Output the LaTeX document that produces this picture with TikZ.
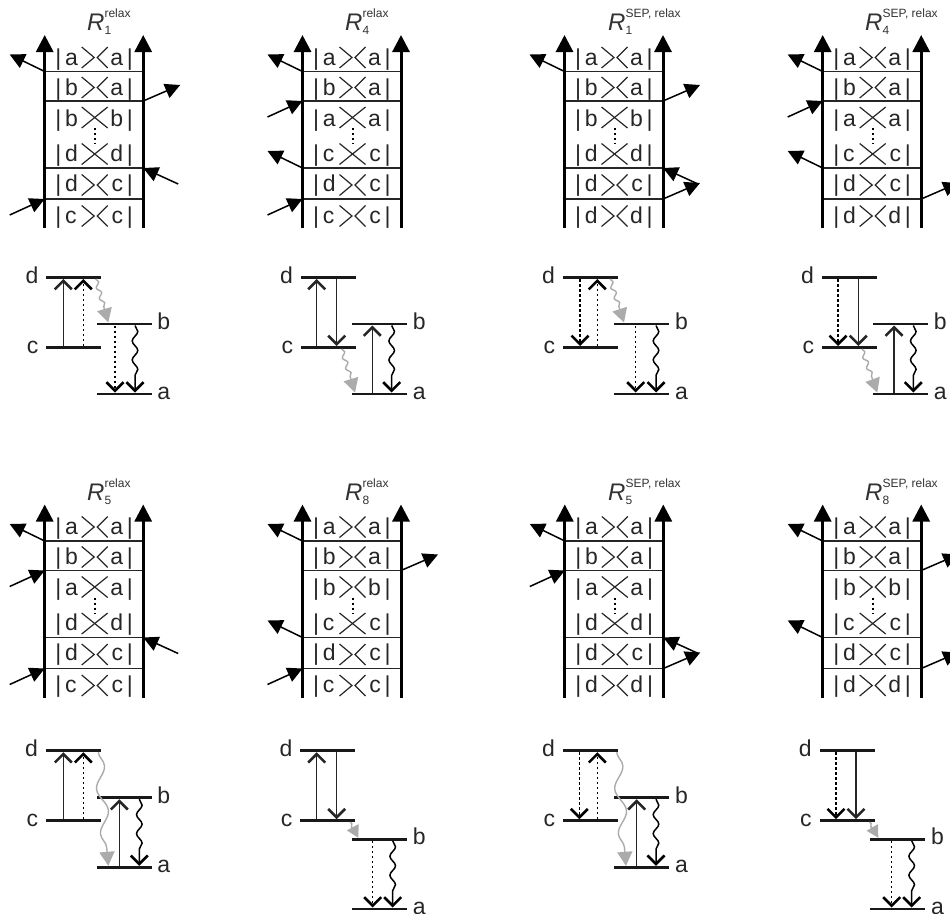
\documentclass[tikz,border=0pt]{standalone}
\usepackage{fontspec}
\setmainfont{Liberation Sans}
\usepackage{tikz}
\usetikzlibrary{arrows.meta, decorations.pathmorphing}

\definecolor{linedark}{gray}{0.15}
\definecolor{waygray}{gray}{0.67}

\tikzset{
  rail/.style={line width=3pt, -{Triangle[length=17pt,width=17pt]}},
  rung/.style={line width=1.6pt, draw=linedark},
  sidearrow/.style={line width=1.5pt, -{Triangle[length=15pt,width=15pt]}},
  ketline/.style={line width=1.2pt, draw=linedark},
  kettext/.style={font=\fontsize{23}{23}\selectfont, text=black!85, inner sep=0pt},
  titletext/.style={anchor=base west, inner sep=0pt, text=black!80},
  level/.style={rectangle, fill=black!90, minimum width=55pt, minimum height=2.6pt, inner sep=0pt, anchor=west},
  levellabel/.style={font=\fontsize{23}{23}\selectfont, text=black!85, inner sep=0pt},
  barbtip/.style={-{Straight Barb[length=8.5pt,width=17pt,line width=2.6pt]}},
  solidtrans/.style={barbtip, line width=1.5pt, draw=linedark},
  dashtrans/.style={barbtip, line width=1.5pt, dash pattern=on 2.5pt off 2.5pt},
  wavytrans/.style={barbtip, line width=1.5pt, decorate, decoration={snake, amplitude=2.8pt, segment length=19pt, post length=8pt}},
  graywave/.style={-{Triangle[length=14pt,width=15pt]}, waygray, line width=1.4pt, decorate, decoration={snake, amplitude=2pt, segment length=11pt, post length=12pt}},
  graylong/.style={-{Triangle[length=14pt,width=15pt]}, waygray, line width=1.4pt, decorate, decoration={snake, amplitude=5pt, segment length=45pt, post length=12pt}},
  grayshort/.style={-{Triangle[length=12pt,width=13pt]}, waygray, line width=1.4pt, decorate, decoration={snake, amplitude=1pt, segment length=6pt, post length=10pt}},
}

% title of one panel: index, superscript
\newcommand{\rname}[2]{{\fontsize{24}{24}\selectfont\textit{R}}\rlap{\raisebox{12.5pt}{\fontsize{12}{12}\selectfont #2}}\raisebox{-4pt}{\fontsize{12}{12}\selectfont #1}}

% open and crossed brackets between the kets
\newcommand{\openrow}[1]{
  \draw[ketline] (37,#1-10.5) -- (49.5,#1) -- (37,#1+10.5);
  \draw[ketline] (63,#1-10.5) -- (52.5,#1) -- (63,#1+10.5);
}
\newcommand{\crossrow}[1]{
  \draw[ketline] (37,#1-10.5) -- (63,#1+10.5);
  \draw[ketline] (63,#1-10.5) -- (37,#1+10.5);
}

% ladder: x, y, letters of rows 3, 4 and 6, bracket of row 3
\newcommand{\ladder}[6]{
  \begin{scope}[shift={(#1,#2)}]
    \coordinate (lb) at (0,228);
    \coordinate (lt) at (0,35);
    \coordinate (rb) at (98.5,228);
    \coordinate (rt) at (98.5,35);
    \foreach \i/\ry in {1/71.5, 2/101, 3/168, 4/199} {
      \coordinate (rl\i) at (0,\ry);
      \coordinate (rr\i) at (98.5,\ry);
      \draw[rung] (rl\i) -- (rr\i);
    }
    \draw[rail] (lb) -- (lt);
    \draw[rail] (rb) -- (rt);
    % kets
    \foreach \n/\by/\la/\lb in {r1/65/a/a, r2/95/b/a, r3/126/#3/#3, r4/161/#4/#4, r5/191/d/c, r6/223/#5/#5} {
      \node[kettext, anchor=base west] (\n l) at (10.4,\by) {|\,\la};
      \node[kettext, anchor=base east] (\n r) at (88.4,\by) {\lb\,|};
    }
    \foreach \cy in {57.5, 87.5, 185, 216} {
      \openrow{\cy}
    }
    #6{117.5}
    \crossrow{154}
    \draw[line width=2pt, dash pattern=on 2pt off 3pt] (50,128) -- (50,144);
  \end{scope}
}

% arrows on the rungs
\newcommand{\emitl}[1]{
  \path (rl#1) ++(-35,-17) coordinate (tl#1);
  \draw[sidearrow] (rl#1) -- (tl#1);
}
\newcommand{\absl}[1]{
  \path (rl#1) ++(-35,16) coordinate (tl#1);
  \draw[sidearrow] (tl#1) -- (rl#1);
}
\newcommand{\emitr}[1]{
  \path (rr#1) ++(37,-16) coordinate (tr#1);
  \draw[sidearrow] (rr#1) -- (tr#1);
}
\newcommand{\absr}[1]{
  \path (rr#1) ++(35,16) coordinate (tr#1);
  \draw[sidearrow] (tr#1) -- (rr#1);
}

% levels: x of d and c, x of b and a, y of d, c, b, a
\newcommand{\levels}[6]{
  \node[level] (d) at (#1,#3) {};
  \node[level] (c) at (#1,#4) {};
  \node[level] (b) at (#2,#5) {};
  \node[level] (a) at (#2,#6) {};
  \node[levellabel, anchor=base east] (dname) at ([xshift=-7.5pt,yshift=-5.5pt]d.west) {d};
  \node[levellabel, anchor=base east] (cname) at ([xshift=-7.5pt,yshift=-5.5pt]c.west) {c};
  \node[levellabel, anchor=base west] (bname) at ([xshift=5.5pt,yshift=-5.5pt]b.east) {b};
  \node[levellabel, anchor=base west] (aname) at ([xshift=5.5pt,yshift=-5.5pt]a.east) {a};
}

% one transition: style, from, shift, to, shift
\newcommand{\trans}[5]{
  \draw[#1] ([xshift=#3pt]#2) -- ([xshift=#5pt]#4);
}

\begin{document}
\begin{tikzpicture}[x=1pt, y=-1pt]
\useasboundingbox (0,0) rectangle (950,913);

% R1 relax
\begin{scope}[name prefix=one-]
\node[titletext] (title) at (87,30) {\rname{1}{relax}};
\ladder{44.7}{0}{b}{d}{c}{\crossrow}
\emitl{1} \emitr{2} \absr{3} \absl{4}
\levels{46}{96.3}{277.5}{347.5}{324}{394}
\trans{solidtrans}{c.north west}{17.3}{d.south west}{17.3}
\trans{dashtrans}{c.north west}{37.3}{d.south west}{37.3}
\trans{graywave}{d.south west}{49.7}{b.north west}{12}
\trans{dashtrans}{b.south west}{18.7}{a.north west}{18.7}
\trans{wavytrans}{b.south west}{38.7}{a.north west}{38.7}
\end{scope}

% R4 relax
\begin{scope}[name prefix=four-]
\node[titletext] (title) at (345,30) {\rname{4}{relax}};
\ladder{302.5}{0}{a}{c}{c}{\crossrow}
\emitl{1} \absl{2} \emitl{3} \absl{4}
\levels{300.7}{351.7}{277.5}{347.5}{324}{394}
\trans{solidtrans}{c.north west}{16}{d.south west}{16}
\trans{solidtrans}{d.south west}{36}{c.north west}{36}
\trans{graywave}{c.south west}{41}{a.north west}{3.3}
\trans{solidtrans}{a.north west}{20.6}{b.south west}{20.6}
\trans{wavytrans}{b.south west}{40}{a.north west}{40}
\end{scope}

% R1 SEP relax
\begin{scope}[name prefix=sepone-]
\node[titletext] (title) at (608,30) {\rname{1}{SEP, relax}};
\ladder{564.5}{0}{b}{d}{d}{\crossrow}
\emitl{1} \emitr{2} \absr{3} \emitr{4}
\levels{562.7}{614}{277.5}{347.5}{324}{394}
\trans{dashtrans}{d.south west}{17.3}{c.north west}{17.3}
\trans{dashtrans}{c.north west}{34.6}{d.south west}{34.6}
\trans{graywave}{d.south west}{47.3}{b.north west}{10}
\trans{dashtrans}{b.south west}{21.7}{a.north west}{21.7}
\trans{wavytrans}{b.south west}{42}{a.north west}{42}
\end{scope}

% R4 SEP relax
\begin{scope}[name prefix=sepfour-]
\node[titletext] (title) at (865,30) {\rname{4}{SEP, relax}};
\ladder{822.7}{0}{a}{c}{d}{\crossrow}
\emitl{1} \absl{2} \emitl{3} \emitr{4}
\levels{821.7}{872.7}{277.5}{347.5}{324}{394}
\trans{dashtrans}{d.south west}{16.3}{c.north west}{16.3}
\trans{solidtrans}{d.south west}{36.6}{c.north west}{36.6}
\trans{graywave}{c.south west}{40}{a.north west}{4.6}
\trans{solidtrans}{a.north west}{21.3}{b.south west}{21.3}
\trans{wavytrans}{b.south west}{40.6}{a.north west}{40.6}
\end{scope}

% R5 relax
\begin{scope}[name prefix=five-]
\node[titletext] (title) at (87,500) {\rname{5}{relax}};
\ladder{44.7}{469.5}{a}{d}{c}{\crossrow}
\emitl{1} \absl{2} \absr{3} \absl{4}
\levels{45.7}{96.3}{750.7}{820.7}{797.7}{867.3}
\trans{solidtrans}{c.north west}{17.6}{d.south west}{17.6}
\trans{dashtrans}{c.north west}{37.6}{d.south west}{37.6}
\trans{graylong}{d.south west}{52.6}{a.north west}{12}
\trans{solidtrans}{a.north west}{23}{b.south west}{23}
\trans{wavytrans}{b.south west}{43}{a.north west}{43}
\end{scope}

% R8 relax
\begin{scope}[name prefix=eight-]
\node[titletext] (title) at (345,500) {\rname{8}{relax}};
\ladder{302.5}{469.5}{b}{c}{c}{\openrow}
\emitl{1} \emitr{2} \emitl{3} \absl{4}
\levels{300}{351.7}{750.7}{820.7}{839.3}{909}
\trans{solidtrans}{c.north west}{16.7}{d.south west}{16.7}
\trans{solidtrans}{d.south west}{36.7}{c.north west}{36.7}
\trans{grayshort}{c.south west}{50}{b.north west}{6.7}
\trans{dashtrans}{b.south west}{21}{a.north west}{21}
\trans{wavytrans}{b.south west}{41}{a.north west}{41}
\end{scope}

% R5 SEP relax
\begin{scope}[name prefix=sepfive-]
\node[titletext] (title) at (608,500) {\rname{5}{SEP, relax}};
\ladder{564.8}{469.5}{a}{d}{d}{\crossrow}
\emitl{1} \absl{2} \absr{3} \emitr{4}
\levels{562.7}{614}{750.7}{820.7}{797.7}{867.3}
\trans{dashtrans}{d.south west}{16.6}{c.north west}{16.6}
\trans{dashtrans}{c.north west}{34.6}{d.south west}{34.6}
\trans{graylong}{d.south west}{54}{a.north west}{12}
\trans{solidtrans}{a.north west}{22.7}{b.south west}{22.7}
\trans{wavytrans}{b.south west}{42}{a.north west}{42}
\end{scope}

% R8 SEP relax
\begin{scope}[name prefix=sepeight-]
\node[titletext] (title) at (865,500) {\rname{8}{SEP, relax}};
\ladder{822.7}{469.5}{b}{c}{d}{\openrow}
\emitl{1} \emitr{2} \emitl{3} \emitr{4}
\levels{819.3}{870}{750.7}{820.7}{839.3}{909}
\trans{dashtrans}{d.south west}{16.7}{c.north west}{16.7}
\trans{solidtrans}{d.south west}{36.7}{c.north west}{36.7}
\trans{grayshort}{c.south west}{50}{b.north west}{8.3}
\trans{dashtrans}{b.south west}{21.7}{a.north west}{21.7}
\trans{wavytrans}{b.south west}{41.7}{a.north west}{41.7}
\end{scope}

\end{tikzpicture}
\end{document}
